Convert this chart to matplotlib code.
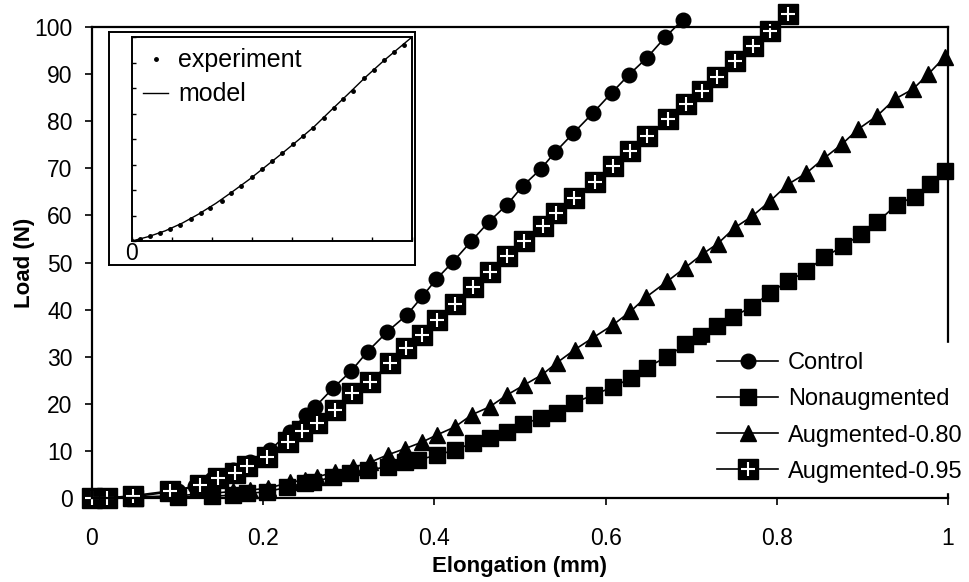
import matplotlib
matplotlib.use("Agg")
import matplotlib.pyplot as plt

plt.rcParams["font.family"] = ["Liberation Sans", "DejaVu Sans"]

# --- main chart data ---
ctrl_x = [0.0, 0.05, 0.10, 0.12, 0.14, 0.165, 0.185, 0.208, 0.231, 0.250, 0.261,
          0.282, 0.303, 0.322, 0.345, 0.368, 0.386, 0.402, 0.422, 0.443, 0.464,
          0.485, 0.503, 0.524, 0.541, 0.562, 0.585, 0.607, 0.627, 0.648, 0.670, 0.690]
ctrl_y = [0.0, 0.3, 1.5, 2.5, 4.0, 6.0, 7.7, 10.2, 14.0, 17.7, 19.4,
          23.4, 27.0, 31.1, 35.3, 38.9, 42.8, 46.4, 50.2, 54.5, 58.7,
          62.3, 66.2, 69.8, 73.4, 77.4, 81.7, 86.0, 89.8, 93.4, 97.9, 101.5]

nonaug_x = [0.0, 0.05, 0.10, 0.14, 0.165, 0.181, 0.204, 0.228, 0.249, 0.258, 0.282,
            0.301, 0.322, 0.346, 0.366, 0.381, 0.403, 0.424, 0.445, 0.465, 0.485,
            0.504, 0.524, 0.543, 0.563, 0.586, 0.609, 0.630, 0.648, 0.672, 0.693,
            0.712, 0.730, 0.749, 0.771, 0.792, 0.813, 0.834, 0.855, 0.877, 0.898,
            0.917, 0.940, 0.961, 0.979, 0.996]
nonaug_y = [0.0, 0.1, 0.2, 0.4, 0.6, 1.0, 1.3, 2.3, 3.2, 3.4, 4.5,
            5.3, 6.0, 6.6, 7.7, 8.1, 9.1, 10.2, 11.7, 12.8, 14.0,
            15.7, 17.0, 18.1, 20.2, 21.9, 23.6, 25.5, 27.7, 30.0, 32.6,
            34.4, 36.5, 38.5, 40.6, 43.6, 46.0, 48.1, 51.1, 53.4, 56.0,
            58.5, 62.3, 64.0, 66.6, 69.4]

aug80_x = [0.0, 0.05, 0.10, 0.14, 0.165, 0.185, 0.206, 0.231, 0.249, 0.263, 0.284,
           0.305, 0.325, 0.346, 0.366, 0.386, 0.403, 0.424, 0.444, 0.465, 0.485,
           0.505, 0.526, 0.543, 0.564, 0.585, 0.609, 0.629, 0.647, 0.672, 0.693,
           0.714, 0.731, 0.751, 0.771, 0.792, 0.813, 0.834, 0.855, 0.876, 0.895,
           0.917, 0.938, 0.959, 0.977, 0.996]
aug80_y = [0.0, 0.2, 0.5, 1.0, 1.4, 1.7, 2.1, 3.3, 3.9, 4.5, 5.5,
           6.5, 7.6, 9.2, 10.5, 11.9, 13.4, 15.1, 17.7, 19.4, 21.9,
           24.0, 26.2, 28.7, 31.5, 34.0, 36.8, 39.6, 42.6, 46.0, 48.9,
           51.9, 54.0, 57.4, 59.8, 63.0, 66.6, 68.9, 72.1, 75.1, 78.3,
           81.1, 84.7, 86.8, 90.0, 93.6]

aug95_x = [0.0, 0.017, 0.048, 0.091, 0.126, 0.147, 0.167, 0.181, 0.204, 0.229,
           0.245, 0.263, 0.284, 0.304, 0.325, 0.348, 0.367, 0.386, 0.403, 0.424,
           0.445, 0.465, 0.485, 0.505, 0.527, 0.542, 0.563, 0.588, 0.609, 0.629,
           0.648, 0.673, 0.694, 0.713, 0.730, 0.751, 0.772, 0.792, 0.813]
aug95_y = [0.0, 0.0, 0.5, 1.5, 2.7, 4.2, 5.4, 6.7, 8.7, 11.9,
           14.3, 16.0, 18.7, 22.3, 24.7, 28.7, 31.9, 34.7, 37.9, 41.1,
           44.7, 47.9, 51.3, 54.5, 57.7, 60.6, 63.8, 67.0, 70.4, 73.6,
           76.8, 80.4, 83.6, 86.4, 89.4, 92.8, 96.0, 99.1, 102.8]

x_ticks = [0, 0.2, 0.4, 0.6, 0.8, 1]
x_tick_labels = ["0", "0.2", "0.4", "0.6", "0.8", "1"]
y_ticks = [0, 10, 20, 30, 40, 50, 60, 70, 80, 90, 100]

# --- inset data (normalised units) ---
model_x = [0.0, 0.06, 0.119, 0.18, 0.238, 0.30, 0.357, 0.42, 0.476, 0.54,
           0.595, 0.65, 0.714, 0.77, 0.833, 0.90, 1.0]
model_y = [0.0, 0.022, 0.050, 0.088, 0.132, 0.185, 0.240, 0.303, 0.364, 0.434,
           0.496, 0.560, 0.645, 0.718, 0.802, 0.885, 1.0]
exp_x = [0.0, 0.03, 0.065, 0.10, 0.135, 0.17, 0.21, 0.245, 0.28, 0.32, 0.355,
         0.39, 0.43, 0.465, 0.50, 0.535, 0.575, 0.61, 0.645, 0.685, 0.72, 0.755,
         0.79, 0.83, 0.865, 0.90, 0.935, 0.97, 1.0]
exp_y = [0.0, 0.012, 0.026, 0.041, 0.060, 0.080, 0.108, 0.135, 0.160, 0.196, 0.236,
         0.272, 0.316, 0.355, 0.392, 0.432, 0.476, 0.514, 0.556, 0.602, 0.652, 0.694,
         0.735, 0.800, 0.840, 0.885, 0.925, 0.962, 1.0]

FS = 17
LW = 1.2

fig = plt.figure(figsize=(9.69, 5.82), dpi=100)
ax = fig.add_axes([0.0949, 0.1443, 0.8834, 0.8093])

common = dict(color="black", lw=LW, clip_on=False, mec="black", mfc="black")
l_ctrl, = ax.plot(ctrl_x, ctrl_y, marker="o", ms=10.5, label="Control", **common)
l_non, = ax.plot(nonaug_x, nonaug_y, marker="s", ms=12, label="Nonaugmented", **common)
l_a80, = ax.plot(aug80_x, aug80_y, marker="^", ms=11.5, label="Augmented-0.80", **common)
l_a95, = ax.plot(aug95_x, aug95_y, marker="s", ms=14, **common)
l_a95p, = ax.plot(aug95_x, aug95_y, ls="none", marker="+", ms=10.5, mew=1.5,
                  color="white", clip_on=False)

ax.set_xlim(0, 1)
ax.set_ylim(0, 100)
ax.set_xticks(x_ticks)
ax.set_xticklabels(x_tick_labels)
ax.set_yticks(y_ticks)
ax.tick_params(axis="both", direction="out", length=5, width=1.2, labelsize=FS - 0.5)
ax.tick_params(axis="x", pad=16)
ax.tick_params(axis="y", pad=9)
for s in ax.spines.values():
    s.set_linewidth(1.6)

ax.set_xlabel("Elongation (mm)", fontsize=FS - 1, fontweight="bold", labelpad=4)
ax.set_ylabel("Load (N)", fontsize=FS - 1, fontweight="bold", labelpad=-0.5)

leg = fig.legend([l_ctrl, l_non, l_a80, (l_a95, l_a95p)],
                 ["Control", "Nonaugmented", "Augmented-0.80", "Augmented-0.95"],
                 loc="upper left", bbox_to_anchor=(0.730, 0.411),
                 fontsize=FS, frameon=True, fancybox=False, edgecolor="white",
                 facecolor="white", framealpha=1, borderaxespad=0, borderpad=0.4,
                 handlelength=2.6, handletextpad=0.4, labelspacing=0.6,
                 numpoints=1)
leg.set_zorder(10)

# --- inset ---
frame = fig.add_axes([0.1125, 0.5447, 0.3158, 0.4003])
frame.set_xticks([])
frame.set_yticks([])
for s in frame.spines.values():
    s.set_linewidth(1.4)
frame.set_zorder(5)

ins = fig.add_axes([0.1362, 0.5859, 0.2890, 0.3505])
ins.set_zorder(6)
ins.plot(model_x, model_y, color="black", lw=1.0, label="model")
ins.plot(exp_x, exp_y, ls="none", marker="o", ms=2.5, color="black", label="experiment")
ins.set_xlim(0, 1)
ins.set_ylim(0, 1)
ins.set_xticks([0, 1/7, 2/7, 3/7, 4/7, 5/7, 6/7, 1])
ins.set_xticklabels(["0", "", "", "", "", "", "", ""])
ins.set_yticks([k / 8 for k in range(9)])
ins.set_yticklabels([])
ins.tick_params(axis="both", direction="in", length=3, width=1, labelsize=FS - 0.5, pad=1)
for s in ins.spines.values():
    s.set_linewidth(1.4)
h, lb = ins.get_legend_handles_labels()
ins.legend(h[::-1], lb[::-1], loc="upper left", fontsize=FS + 1, frameon=False,
           handlelength=1.0, handletextpad=0.4, borderaxespad=0.15, labelspacing=0.4,
           numpoints=1, borderpad=0.3)

fig.savefig("out.png", dpi=100)
